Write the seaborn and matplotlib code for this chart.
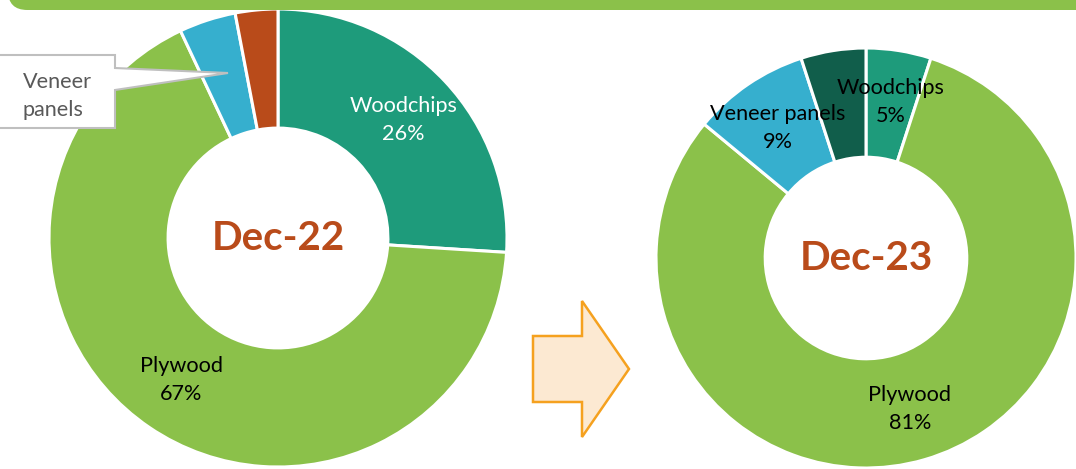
import numpy as np
import matplotlib
matplotlib.use("Agg")
import matplotlib.pyplot as plt
from matplotlib.patches import Polygon, FancyBboxPatch
import seaborn as sns

# =========================
# Datos
# =========================
categorias = ["Woodchips", "Plywood", "Veneer panels", "Others"]
valores_dec22 = [26, 67, 4, 3]
valores_dec23 = [5, 81, 9, 5]

colores_dec22 = ["#1E9B7B", "#8BC14A", "#36AFCE", "#B94B1A"]
colores_dec23 = ["#1E9B7B", "#8BC14A", "#36AFCE", "#115E4B"]

# etiquetas visibles dentro de cada dona (color del texto)
etiquetas_dec22 = {"Woodchips": "white", "Plywood": "black"}
etiquetas_dec23 = {"Woodchips": "black", "Plywood": "black", "Veneer panels": "black"}

sns.set_theme(style="white")
plt.rcParams["font.family"] = ["Lato", "DejaVu Sans"]

W, H = 1076, 469
fig = plt.figure(figsize=(W / 100, H / 100), dpi=100)
fig.patch.set_facecolor("white")


def px(x, y):
    # pixeles (origen arriba-izquierda) -> fraccion de figura
    return (x / W, 1 - y / H)


def dona(cx, cy, r, valores, colores, etiquetas, titulo):
    ax = fig.add_axes([(cx - r) / W, 1 - (cy + r) / H, 2 * r / W, 2 * r / H])
    wedges, _ = ax.pie(
        valores, colors=colores, startangle=90, counterclock=False, radius=1,
        wedgeprops=dict(width=0.52, edgecolor="white", linewidth=2.2),
    )
    ax.set_xlim(-1, 1)
    ax.set_ylim(-1, 1)
    ax.set_axis_off()
    for w, nombre, v in zip(wedges, categorias, valores):
        if nombre not in etiquetas:
            continue
        th = np.deg2rad((w.theta1 + w.theta2) / 2)
        ax.text(0.75 * np.cos(th), 0.75 * np.sin(th), f"{nombre}\n{v}%",
                ha="center", va="center", fontsize=15.6, linespacing=1.5,
                color=etiquetas[nombre])
    ax.text(0, 0, titulo, ha="center", va="center", fontsize=29,
            fontweight="bold", color="#B94B1A")
    return ax, wedges


ax1, w1 = dona(278, 238, 229, valores_dec22, colores_dec22, etiquetas_dec22, "Dec-22")
ax2, w2 = dona(866, 258, 210, valores_dec23, colores_dec23, etiquetas_dec23, "Dec-23")

# =========================
# Barra verde superior
# =========================
x0, y0 = px(8, 10)
barra = FancyBboxPatch((x0, y0), 1.2, 0.2,
                       boxstyle="round,pad=0,rounding_size=0.018",
                       transform=fig.transFigure, fc="#8BC14A", ec="none",
                       mutation_aspect=W / H, zorder=5)
fig.add_artist(barra)

# =========================
# Callout "Veneer panels"
# =========================
callout = [(-2, 55), (115, 55), (115, 68), (228, 73), (115, 90), (115, 128), (-2, 128)]
fig.add_artist(Polygon([px(*p) for p in callout], closed=True,
                       transform=fig.transFigure, fc="white", ec="#BFBFBF",
                       lw=1.5, zorder=6))
fig.text(*px(23, 96), "Veneer\npanels", ha="left", va="center",
         fontsize=15.6, linespacing=1.5, color="#595959", zorder=7)

# =========================
# Flecha
# =========================
flecha = [(533, 336), (582, 336), (582, 301), (629, 369), (582, 437), (582, 402), (533, 402)]
fig.add_artist(Polygon([px(*p) for p in flecha], closed=True,
                       transform=fig.transFigure, fc="#FCE9D2", ec="#F5A11F",
                       lw=1.8, zorder=4))

fig.savefig("out.png", dpi=100, facecolor="white")
